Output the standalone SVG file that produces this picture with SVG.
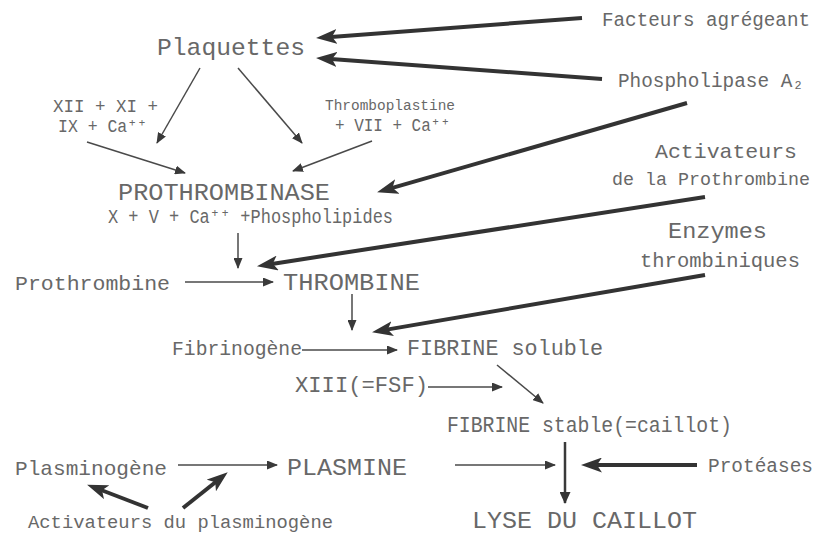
<svg xmlns="http://www.w3.org/2000/svg" width="821" height="535" viewBox="0 0 821 535">
<style>
  text { font-family: "Liberation Mono", "Courier New", "DejaVu Sans Mono", monospace; fill: #686868; }
  .thin { stroke: #4a4a4a; stroke-width: 1.5; fill: none; }
  .mid { stroke: #3a3a3a; stroke-width: 2.5; fill: none; }
  .thick { stroke: #333; stroke-width: 4; fill: none; }
</style>
<defs>
  <marker id="ah" markerUnits="userSpaceOnUse" markerWidth="11" markerHeight="9" refX="10" refY="4.5" orient="auto">
    <path d="M0,0 L11,4.5 L0,9 Z" fill="#3a3a3a"/>
  </marker>
  <marker id="ahm" markerUnits="userSpaceOnUse" markerWidth="12" markerHeight="11" refX="11" refY="5.5" orient="auto">
    <path d="M0,0 L12,5.5 L0,11 Z" fill="#333"/>
  </marker>
  <marker id="ahb" markerUnits="userSpaceOnUse" markerWidth="21" markerHeight="15" refX="6" refY="7.5" orient="auto">
    <path d="M0,0 L21,7.5 L0,15 L5,7.5 Z" fill="#333"/>
  </marker>
</defs>
<rect width="821" height="535" fill="#fff"/>

<g id="connectors">
  <line class="thick" x1="582" y1="18" x2="331" y2="36.9" marker-end="url(#ahb)"/>
  <line class="thick" x1="602" y1="79" x2="331" y2="59" marker-end="url(#ahb)"/>
  <line class="thick" x1="687" y1="103" x2="391.5" y2="188.1" marker-end="url(#ahb)"/>
  <line class="thick" x1="705" y1="197" x2="271.8" y2="263.9" marker-end="url(#ahb)"/>
  <line class="thick" x1="705" y1="275" x2="386.8" y2="329.6" marker-end="url(#ahb)"/>
  <line class="thick" x1="697" y1="465" x2="596" y2="465" marker-end="url(#ahb)"/>
  <line class="thick" x1="148" y1="508" x2="101.1" y2="490" marker-end="url(#ahb)"/>
  <line class="thick" x1="183" y1="508" x2="216" y2="481.7" marker-end="url(#ahb)"/>
  <line class="thin" x1="200" y1="68" x2="157" y2="143" marker-end="url(#ah)"/>
  <line class="thin" x1="238" y1="68" x2="302" y2="143" marker-end="url(#ah)"/>
  <line class="thin" x1="87" y1="142" x2="185" y2="173" marker-end="url(#ah)"/>
  <line class="thin" x1="372" y1="141" x2="293" y2="171" marker-end="url(#ah)"/>
  <line class="thin" x1="238" y1="233" x2="238" y2="268" marker-end="url(#ah)"/>
  <line class="thin" x1="185" y1="282" x2="273" y2="282" marker-end="url(#ah)"/>
  <line class="thin" x1="352" y1="294" x2="352" y2="330" marker-end="url(#ah)"/>
  <line class="thin" x1="302" y1="350" x2="397" y2="350" marker-end="url(#ah)"/>
  <line class="thin" x1="428" y1="387" x2="502" y2="387" marker-end="url(#ah)"/>
  <line class="thin" x1="497" y1="365" x2="543" y2="403" marker-end="url(#ah)"/>
  <line class="thin" x1="178" y1="465" x2="277" y2="465" marker-end="url(#ah)"/>
  <line class="thin" x1="455" y1="465" x2="555" y2="465" marker-end="url(#ah)"/>
  <line class="mid" x1="565" y1="442" x2="565" y2="503" marker-end="url(#ahm)"/>
</g>

<g id="plaquettes"><text x="157" y="55" font-size="24" textLength="148" lengthAdjust="spacingAndGlyphs">Plaquettes</text></g>
<g id="facteurs"><text x="602" y="26" font-size="19.5" textLength="208" lengthAdjust="spacingAndGlyphs">Facteurs agrégeant</text></g>
<g id="phospholipase"><text x="618" y="87" font-size="19.5" textLength="186" lengthAdjust="spacingAndGlyphs">Phospholipase A₂</text></g>
<g id="activateurs-prothrombine">
  <text x="655" y="158" font-size="21" textLength="142" lengthAdjust="spacingAndGlyphs">Activateurs</text>
  <text x="612" y="185" font-size="18.5" textLength="198" lengthAdjust="spacingAndGlyphs">de la Prothrombine</text>
</g>
<g id="enzymes">
  <text x="668" y="238" font-size="22" textLength="99" lengthAdjust="spacingAndGlyphs">Enzymes</text>
  <text x="640" y="267" font-size="20.5" textLength="160" lengthAdjust="spacingAndGlyphs">thrombiniques</text>
</g>
<g id="voie-intrinseque">
  <text x="53" y="112" font-size="18" textLength="105" lengthAdjust="spacingAndGlyphs">XII + XI +</text>
  <text x="58" y="132" font-size="18" textLength="89" lengthAdjust="spacingAndGlyphs">IX + Ca⁺⁺</text>
</g>
<g id="voie-extrinseque">
  <text x="325" y="110" font-size="14" textLength="130" lengthAdjust="spacingAndGlyphs">Thromboplastine</text>
  <text x="335" y="131" font-size="18" textLength="115" lengthAdjust="spacingAndGlyphs">+ VII + Ca⁺⁺</text>
</g>
<g id="prothrombinase">
  <text x="118" y="200" font-size="24" textLength="212" lengthAdjust="spacingAndGlyphs">PROTHROMBINASE</text>
  <text x="108" y="223" font-size="20" textLength="285" lengthAdjust="spacingAndGlyphs">X + V + Ca⁺⁺ +Phospholipides</text>
</g>
<g id="prothrombine"><text x="15" y="290" font-size="21" textLength="155" lengthAdjust="spacingAndGlyphs">Prothrombine</text></g>
<g id="thrombine"><text x="283" y="290" font-size="24" textLength="137" lengthAdjust="spacingAndGlyphs">THROMBINE</text></g>
<g id="fibrinogene"><text x="172" y="355" font-size="20" textLength="130" lengthAdjust="spacingAndGlyphs">Fibrinogène</text></g>
<g id="fibrine-soluble"><text x="407" y="355" font-size="22" textLength="196" lengthAdjust="spacingAndGlyphs">FIBRINE soluble</text></g>
<g id="xiii"><text x="295" y="392" font-size="22" textLength="133" lengthAdjust="spacingAndGlyphs">XIII(=FSF)</text></g>
<g id="fibrine-stable"><text x="447" y="432" font-size="22" textLength="285" lengthAdjust="spacingAndGlyphs">FIBRINE stable(=caillot)</text></g>
<g id="plasminogene"><text x="15" y="475" font-size="21" textLength="152" lengthAdjust="spacingAndGlyphs">Plasminogène</text></g>
<g id="plasmine"><text x="287" y="475" font-size="24" textLength="120" lengthAdjust="spacingAndGlyphs">PLASMINE</text></g>
<g id="proteases"><text x="708" y="472" font-size="19.5" textLength="105" lengthAdjust="spacingAndGlyphs">Protéases</text></g>
<g id="activateurs-plasminogene"><text x="28" y="528" font-size="19" textLength="305" lengthAdjust="spacingAndGlyphs">Activateurs du plasminogène</text></g>
<g id="lyse"><text x="472" y="528" font-size="23" textLength="225" lengthAdjust="spacingAndGlyphs">LYSE DU  CAILLOT</text></g>
</svg>
